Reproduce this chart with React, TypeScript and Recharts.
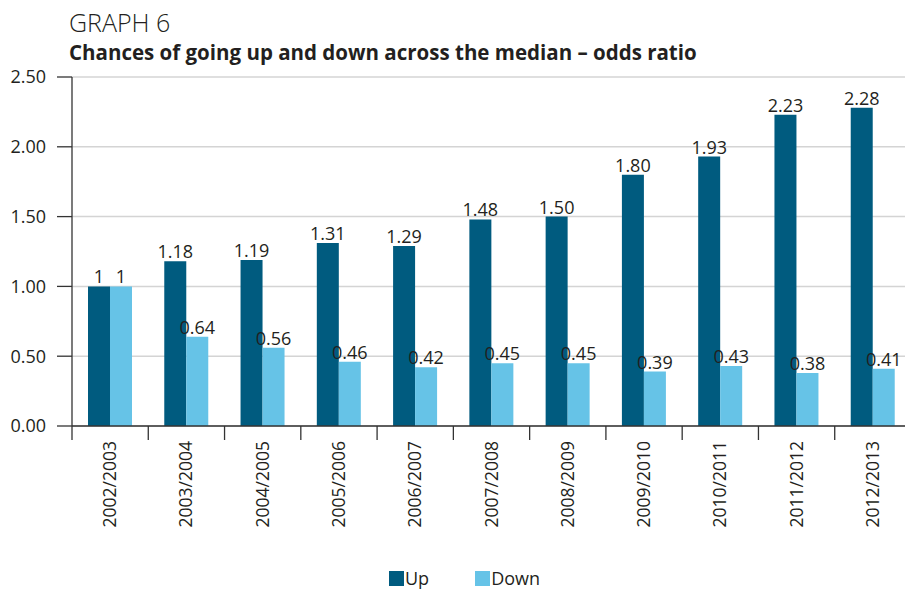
import { BarChart, Bar, XAxis, YAxis, CartesianGrid, LabelList } from "recharts";

const categories = [
  "2002/2003",
  "2003/2004",
  "2004/2005",
  "2005/2006",
  "2006/2007",
  "2007/2008",
  "2008/2009",
  "2009/2010",
  "2010/2011",
  "2011/2012",
  "2012/2013",
];
const upValues = [1, 1.18, 1.19, 1.31, 1.29, 1.48, 1.5, 1.8, 1.93, 2.23, 2.28];
const downValues = [1, 0.64, 0.56, 0.46, 0.42, 0.45, 0.45, 0.39, 0.43, 0.38, 0.41];
const yTicks = [0, 0.5, 1, 1.5, 2, 2.5];

const UP_COLOR = "#005b7f";
const DOWN_COLOR = "#66c3e7";
const TEXT = "#231f20";
const FONT = "'Open Sans', 'Noto Sans', sans-serif";

const data = categories.map((c, i) => ({
  period: c,
  up: upValues[i],
  down: downValues[i],
}));

const fmtLabel = (v: any) => (v === 1 ? "1" : Number(v).toFixed(2));

// category ticks sit on the band boundaries, labels at band centre
function CategoryTick(props: any) {
  const { x, y, payload } = props;
  const half = payload && payload.offset ? payload.offset : 38;
  return (
    <g>
      <line x1={x - half} y1={y} x2={x - half} y2={y + 14} stroke="#333" strokeWidth={1.3} />
      <text
        x={x + 6}
        y={y + 15}
        transform={`rotate(-90, ${x + 6}, ${y + 15})`}
        textAnchor="end"
        fontSize={17.5}
        fontFamily={FONT}
        fill={TEXT}
      >
        {payload.value}
      </text>
    </g>
  );
}

export default function App() {
  return (
    <div
      style={{
        position: "absolute",
        left: 0,
        top: 0,
        width: 905,
        height: 589,
        overflow: "hidden",
        background: "#fff",
        fontFamily: FONT,
        color: TEXT,
      }}
    >
      <div
        style={{
          position: "absolute",
          left: 69,
          top: 10,
          fontSize: 25,
          lineHeight: "25px",
          fontWeight: 300,
          whiteSpace: "nowrap",
        }}
      >
        GRAPH 6
      </div>
      <div
        style={{
          position: "absolute",
          left: 69,
          top: 42,
          fontSize: 20.5,
          lineHeight: "20px",
          fontWeight: 700,
          whiteSpace: "nowrap",
        }}
      >
        Chances of going up and down across the median – odds ratio
      </div>

      <BarChart
        width={930}
        height={589}
        data={data}
        margin={{ top: 77, right: 19, bottom: 0, left: 0 }}
        barCategoryGap={16}
        barGap={0}
        style={{ position: "absolute", left: 0, top: 0 }}
      >
        <CartesianGrid vertical={false} stroke="#d4d4d4" strokeWidth={1.5} />
        <XAxis
          dataKey="period"
          height={163}
          interval={0}
          tickLine={false}
          tickSize={0}
          tickMargin={0}
          axisLine={{ stroke: "#333", strokeWidth: 1.3 }}
          tick={<CategoryTick />}
        />
        <YAxis
          width={72}
          domain={[0, 2.5]}
          ticks={yTicks}
          interval={0}
          tickSize={15}
          tickMargin={11}
          tickFormatter={(v: number) => v.toFixed(2)}
          tickLine={{ stroke: "#333", strokeWidth: 1.3 }}
          axisLine={{ stroke: "#333", strokeWidth: 1.3 }}
          tick={{ fontSize: 18, fill: TEXT, fontFamily: FONT }}
        />
        <Bar dataKey="up" fill={UP_COLOR} isAnimationActive={false}>
          <LabelList
            dataKey="up"
            position="top"
            offset={3}
            formatter={fmtLabel}
            style={{ fontSize: 18, fill: TEXT, fontFamily: FONT }}
          />
        </Bar>
        <Bar dataKey="down" fill={DOWN_COLOR} isAnimationActive={false}>
          <LabelList
            dataKey="down"
            position="top"
            offset={3}
            formatter={fmtLabel}
            style={{ fontSize: 18, fill: TEXT, fontFamily: FONT }}
          />
        </Bar>
      </BarChart>

      <div
        style={{
          position: "absolute",
          left: 389,
          top: 568,
          display: "flex",
          alignItems: "center",
          fontSize: 18,
          lineHeight: "20px",
        }}
      >
        <span style={{ width: 15, height: 15, background: UP_COLOR, display: "inline-block" }} />
        <span style={{ marginLeft: 1, marginRight: 46 }}>Up</span>
        <span style={{ width: 15, height: 15, background: DOWN_COLOR, display: "inline-block" }} />
        <span style={{ marginLeft: 1 }}>Down</span>
      </div>
    </div>
  );
}
